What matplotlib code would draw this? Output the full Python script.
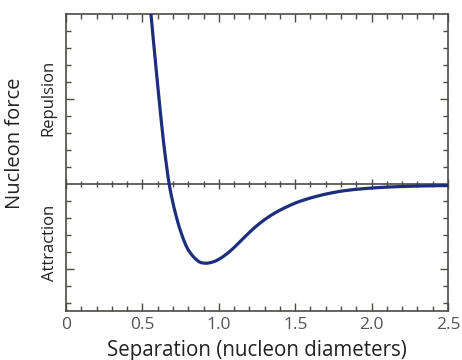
import matplotlib
matplotlib.use("Agg")
import numpy as np
import matplotlib.pyplot as plt
from matplotlib.path import Path
from matplotlib.patches import PathPatch
from matplotlib.ticker import MultipleLocator, FixedLocator, NullFormatter

# Data (separation in nucleon diameters, force in arbitrary units)
separation = [0.546, 0.556, 0.582, 0.609, 0.638, 0.659, 0.675, 0.697, 0.724, 0.758,
              0.795, 0.835, 0.875, 0.915, 0.96, 1.00, 1.04, 1.08, 1.12, 1.16,
              1.20, 1.24, 1.28, 1.32, 1.36, 1.40, 1.45, 1.50, 1.55, 1.60,
              1.65, 1.70, 1.75, 1.80, 1.85, 1.90, 2.00, 2.10, 2.25, 2.40, 2.50]
force = [11.0, 10.0, 7.5, 5.0, 2.5, 1.0, 0.0, -1.0, -2.0, -3.0,
         -3.8, -4.3, -4.6, -4.67, -4.60, -4.44, -4.20, -3.91, -3.57, -3.21,
         -2.86, -2.53, -2.24, -1.98, -1.75, -1.55, -1.33, -1.13, -0.97, -0.83,
         -0.71, -0.60, -0.51, -0.43, -0.37, -0.32, -0.245, -0.19, -0.14, -0.11, -0.10]

x_ticks = [0, 0.5, 1.0, 1.5, 2.0, 2.5]
x_ticklabels = ["0", "0.5", "1.0", "1.5", "2.0", "2.5"]
y_major = [-5, 5]
y_minor = [-7, -6, -4, -3, -2, -1, 1, 2, 3, 4, 6, 7, 8, 9]
xlabel = "Separation (nucleon diameters)"
ylabel = "Nucleon force"
region_labels = ["Repulsion", "Attraction"]

plt.rcParams['font.family'] = ['Open Sans', 'DejaVu Sans']

W, H = 462, 360
fig = plt.figure(figsize=(W / 100, H / 100), dpi=100)
ax = fig.add_axes([66 / W, 1 - 311.3 / H, (448 - 66) / W, (311.3 - 14) / H])
ax.set_xlim(0, 2.5)
ax.set_ylim(-7.5, 10)

frame_col = '#4d4a47'
line_col = '#1c2e7c'


def smooth_path(xs, ys, transform):
    """Bezier path through the read points (tangents from neighbours, in display space)."""
    P = transform.transform(np.column_stack([xs, ys]))
    n = len(P)
    T = np.zeros_like(P)
    for i in range(n):
        a = P[max(i - 1, 0)]
        b = P[min(i + 1, n - 1)]
        d = b - a
        T[i] = d / np.hypot(*d)
    verts = [P[0]]
    codes = [Path.MOVETO]
    for i in range(n - 1):
        L = np.hypot(*(P[i + 1] - P[i]))
        verts += [P[i] + T[i] * L / 3, P[i + 1] - T[i + 1] * L / 3, P[i + 1]]
        codes += [Path.CURVE4] * 3
    verts = transform.inverted().transform(np.array(verts))
    return Path(verts, codes)


patch = PathPatch(smooth_path(separation, force, ax.transData), facecolor='none',
                  edgecolor=line_col, lw=2.3, capstyle='round', zorder=3)
ax.add_patch(patch)

for s in ax.spines.values():
    s.set_color(frame_col)
    s.set_linewidth(1.2)

ax.set_xticks(x_ticks)
ax.set_xticklabels(x_ticklabels)
ax.xaxis.set_minor_locator(MultipleLocator(0.1))
ax.yaxis.set_major_locator(FixedLocator(y_major))
ax.yaxis.set_minor_locator(FixedLocator(y_minor))
ax.yaxis.set_major_formatter(NullFormatter())
ax.yaxis.set_minor_formatter(NullFormatter())
ax.tick_params(which='both', direction='in', top=True, right=True, left=True,
               bottom=True, color=frame_col, width=1.0)
ax.tick_params(which='major', length=6)
ax.tick_params(which='minor', length=3.4)
ax.tick_params(axis='x', labelsize=12.5, labelcolor='#555555', pad=4)
ax.tick_params(axis='y', labelleft=False)

# zero line with crossing ticks
ylo, yhi = ax.get_ylim()
sec = ax.secondary_xaxis((0 - ylo) / (yhi - ylo))
sec.set_xticks(x_ticks)
sec.xaxis.set_minor_locator(MultipleLocator(0.1))
sec.tick_params(which='both', direction='inout', labelbottom=False, labeltop=False,
                color=frame_col, width=1.0)
sec.tick_params(which='major', length=7)
sec.tick_params(which='minor', length=4.5)
for s in sec.spines.values():
    s.set_color(frame_col)
    s.set_linewidth(1.2)

ax.set_xlabel(xlabel, fontsize=14.8, color='#222222', labelpad=5)
fig.text(15 / W, 1 - 143 / H, ylabel, rotation=90, fontsize=14.5, color='#222222',
         ha='center', va='center')
fig.text(48 / W, 1 - 97.5 / H, region_labels[0], rotation=90, fontsize=12,
         color='#222222', ha='center', va='center')
fig.text(50 / W, 1 - 243 / H, region_labels[1], rotation=90, fontsize=12,
         color='#222222', ha='center', va='center')

fig.savefig("out.png", dpi=100)
